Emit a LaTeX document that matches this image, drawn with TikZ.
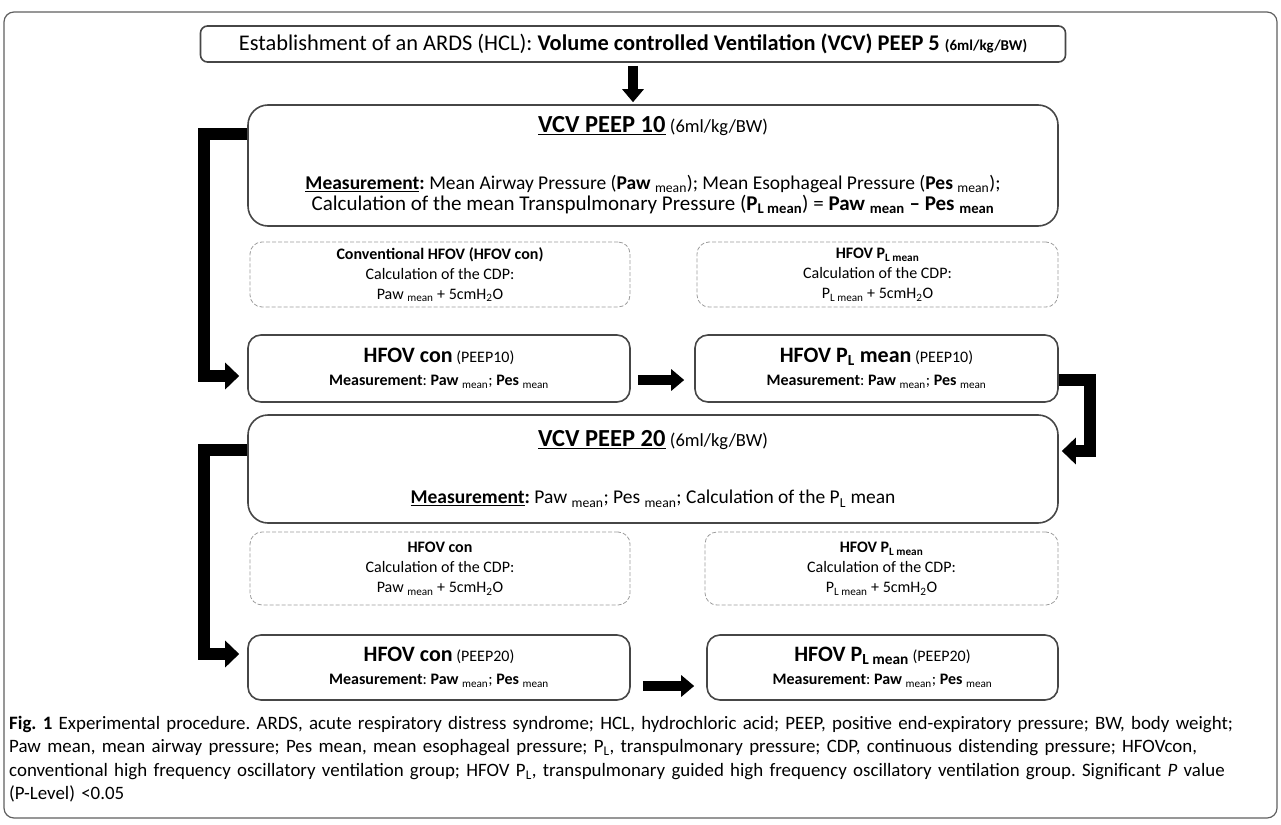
\documentclass[tikz,border=0pt]{standalone}
\usepackage{fontspec}
\setmainfont{Carlito}
\usetikzlibrary{arrows.meta, positioning, calc}
\definecolor{boxline}{RGB}{70,70,70}
\definecolor{dashline}{RGB}{155,155,155}
\definecolor{frameline}{RGB}{95,95,95}
\newcommand{\mn}{\textsubscript{mean}}
\newcommand{\PLsub}{P\textsubscript{L}}
\frenchspacing

\begin{document}
\begin{tikzpicture}[x=1pt, y=-1pt,
        stage/.style={draw=boxline, line width=1.6pt, rounded corners=13pt,
                      align=center, inner sep=0pt, fill=white},
        cdpbox/.style={draw=dashline, line width=0.8pt, dash pattern=on 4pt off 2pt,
                       rounded corners=12pt, align=center, inner sep=0pt,
                       minimum height=65pt, font=\fontsize{16}{20}\selectfont},
        hfov/.style={stage, minimum height=67pt, font=\fontsize{16}{23}\selectfont},
        flow/.style={line width=12pt, -{Triangle[width=26pt,length=14pt]}},
        hop/.style={line width=10pt, -{Triangle[width=21pt,length=13pt]}}]
      \useasboundingbox (0,0) rectangle (1281,824);
      \draw[frameline, line width=1.2pt, rounded corners=10pt] (4,12) rectangle (1277,818);

      \node[stage, rounded corners=7pt, minimum width=865pt, minimum height=36pt,
            font=\fontsize{22.4}{24}\selectfont] (ards) at (633,44)
            {Establishment of an ARDS (HCL): \textbf{Volume controlled Ventilation (VCV) PEEP 5 {\fontsize{15}{16}\selectfont (6ml/kg/BW)}}};

      \node[stage, rounded corners=20pt, minimum width=810pt, minimum height=121pt,
            font=\fontsize{19.5}{21}\selectfont] (vcvten) at (653,165.5)
            {{\fontsize{24.5}{26}\selectfont\textbf{\underline{VCV PEEP 10}}} {\fontsize{18.5}{20}\selectfont(6ml/kg/BW)}\\[36pt]
             \textbf{\underline{Measurement}:} Mean Airway Pressure (\textbf{Paw} \mn); Mean Esophageal Pressure (\textbf{Pes} \mn);\\
             {\fontsize{21}{21}\selectfont Calculation of the mean Transpulmonary Pressure (\textbf{P\textsubscript{L mean}}) = \textbf{Paw \mn{} -- Pes \mn}}};

      \node[cdpbox, minimum width=380pt] (cdpconA) at (440,274.5)
            {\textbf{Conventional HFOV (HFOV con)}\\ Calculation of the CDP:\\ Paw \mn{} + 5cmH\textsubscript{2}O};
      \node[cdpbox, minimum width=361pt] (cdpplA) at (877.5,274.5)
            {\textbf{HFOV P\textsubscript{L mean}}\\ Calculation of the CDP:\\ P\textsubscript{L mean} + 5cmH\textsubscript{2}O};

      \node[hfov, minimum width=382pt] (hfovconA) at (439,368.5)
            {\textbf{\fontsize{22}{23}\selectfont HFOV con} (PEEP10)\\ \textbf{Measurement}: \textbf{Paw} \mn; \textbf{Pes} \mn};
      \node[hfov, minimum width=363pt] (hfovplA) at (876.5,368.5)
            {\textbf{\fontsize{22}{23}\selectfont HFOV \PLsub{} mean} (PEEP10)\\ \textbf{Measurement}: \textbf{Paw} \mn; \textbf{Pes} \mn};

      \node[stage, rounded corners=20pt, minimum width=810pt, minimum height=108pt,
            font=\fontsize{19.5}{21}\selectfont] (vcvtwenty) at (653,469)
            {{\fontsize{24.5}{26}\selectfont\textbf{\underline{VCV PEEP 20}}} {\fontsize{18.5}{20}\selectfont(6ml/kg/BW)}\\[36pt]
             \textbf{\underline{Measurement}:} Paw \mn; Pes \mn; Calculation of the \PLsub{} mean};

      \node[cdpbox, minimum width=380pt, minimum height=73pt] (cdpconB) at (440,568.5)
            {\textbf{HFOV con}\\ Calculation of the CDP:\\ Paw \mn{} + 5cmH\textsubscript{2}O};
      \node[cdpbox, minimum width=353pt, minimum height=73pt] (cdpplB) at (881.5,568.5)
            {\textbf{HFOV P\textsubscript{L mean}}\\ Calculation of the CDP:\\ P\textsubscript{L mean} + 5cmH\textsubscript{2}O};

      \node[hfov, minimum width=382pt, minimum height=65pt] (hfovconB) at (439,667.5)
            {\textbf{\fontsize{22}{23}\selectfont HFOV con} (PEEP20)\\ \textbf{Measurement}: \textbf{Paw} \mn; \textbf{Pes} \mn};
      \node[hfov, minimum width=351pt, minimum height=65pt] (hfovplB) at (882.5,667.5)
            {\textbf{\fontsize{22}{23}\selectfont HFOV P\textsubscript{L mean}} (PEEP20)\\ \textbf{Measurement}: \textbf{Paw} \mn; \textbf{Pes} \mn};

      \coordinate (k1) at (204,134);
      \coordinate (k2) at (204,376);
      \coordinate (k3) at (1090,380);
      \coordinate (k4) at (1090,451);
      \coordinate (k5) at (204,450);
      \coordinate (k6) at (204,654);

      \draw[hop, shorten <=3pt, shorten >=2pt] (ards.south) -- (vcvten.north -| ards.south);
      \draw[flow, shorten >=8pt] (k1 -| vcvten.west) -- (k1) -- (k2) -- (k2 -| hfovconA.west);
      \draw[hop, shorten <=7pt, shorten >=10pt] (hfovconA.east |- k3) -- (hfovplA.west |- k3);
      \draw[flow, shorten >=3pt] (k3 -| hfovplA.east) -- (k3) -- (k4) -- (k4 -| vcvtwenty.east);
      \draw[flow, shorten >=8pt] (k5 -| vcvtwenty.west) -- (k5) -- (k6) -- (k6 -| hfovconB.west);
      \draw[hop, shorten <=12pt, shorten >=12pt] (hfovconB.east |- 0,686) -- (hfovplB.west |- 0,686);

      \node[anchor=north west, inner sep=0pt, text width=1268pt, align=left,
            font=\fontsize{18.9}{23.5}\selectfont] (caption) at (9,716)
            {\textbf{Fig.~1} Experimental procedure. ARDS, acute respiratory distress syndrome; HCL, hydrochloric acid; PEEP, positive end-expiratory pressure; BW, body weight;\\
             Paw mean, mean airway pressure; Pes mean, mean esophageal pressure; \PLsub, transpulmonary pressure; CDP, continuous distending pressure; HFOVcon,\\
             conventional high frequency oscillatory ventilation group; HFOV \PLsub, transpulmonary guided high frequency oscillatory ventilation group. Significant \textit{P} value\\
             (P-Level) <0.05};
    \end{tikzpicture}
\end{document}
